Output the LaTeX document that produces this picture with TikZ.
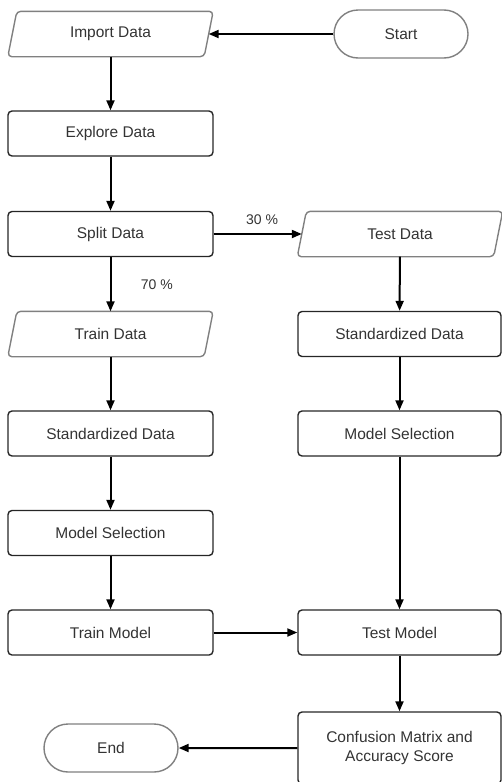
\documentclass[tikz,border=0pt]{standalone}
\usepackage{fontspec}
\setmainfont{Liberation Sans}
\usetikzlibrary{arrows.meta,calc,shapes.misc}
\begin{document}
\begin{tikzpicture}[x=1pt,y=-1pt,
  every node/.style={font=\fontsize{15.5}{19}\selectfont, text=black!80},
  rbox/.style={draw=black!85, line width=1.4pt, rounded corners=4pt, minimum height=45pt, inner sep=0pt, align=center},
  lcol/.style={minimum width=205pt},
  rcol/.style={minimum width=203pt},
  pnode/.style={minimum width=196pt, minimum height=45pt, inner sep=0pt},
  pline/.style={draw=black!50, line width=1.4pt, rounded corners=4pt},
  term/.style={rounded rectangle, draw=black!50, line width=1.4pt, minimum width=134pt, minimum height=48pt, inner sep=0pt},
  arr/.style={-{Triangle[length=10pt,width=8pt]}, line width=2pt, black},
  lbl/.style={font=\fontsize{14}{16}\selectfont, text=black!80}
]
\useasboundingbox (0,0) rectangle (501,782);
\newcommand\paral[1]{\path[pline] ($(#1.south west)+(-4.5,0)$) -- ($(#1.north west)+(4.5,0)$) -- ($(#1.north east)+(4.5,0)$) -- ($(#1.south east)+(-4.5,0)$) -- cycle;}

% left column
\node[pnode] (imp) at (110.5,34) {Import Data};
\paral{imp}
\node[rbox,lcol] (exp) at (110.5,133.5) {Explore Data};
\node[rbox,lcol] (spl) at (110.5,234) {Split Data};
\node[pnode] (trd) at (110.5,334) {Train Data};
\paral{trd}
\node[rbox,lcol] (stl) at (110.5,433.5) {Standardized Data};
\node[rbox,lcol] (msl) at (110.5,533) {Model Selection};
\node[rbox,lcol] (trm) at (110.5,632.5) {Train Model};
\node[term] (end) at (111,748) {End};

% right column
\node[term] (start) at (401,34) {Start};
\node[pnode] (ted) at (400,234) {Test Data};
\paral{ted}
\node[rbox,rcol] (str) at (399.5,334) {Standardized Data};
\node[rbox,rcol] (msr) at (399.5,433.5) {Model Selection};
\node[rbox,rcol] (tem) at (399.5,632.5) {Test Model};
\node[rbox,rcol,minimum height=72pt] (cm) at (399.5,748) {Confusion Matrix and\\Accuracy Score};

% connectors
\draw[arr] (start) -- (imp);
\draw[arr] (imp) -- (exp);
\draw[arr] (exp) -- (spl);
\draw[arr] (spl) -- node[lbl, pos=0.5, right=26pt] {70 \%} (trd);
\draw[arr] (spl) -- node[lbl, pos=0.55, above=5pt] {30 \%} (ted);
\draw[arr] (trd) -- (stl);
\draw[arr] (stl) -- (msl);
\draw[arr] (msl) -- (trm);
\draw[arr] (trm) -- (tem);
\draw[arr] (ted) -- (str);
\draw[arr] (str) -- (msr);
\draw[arr] (msr) -- (tem);
\draw[arr] (tem) -- (cm);
\draw[arr] (cm.west |- end) -- (end);
\end{tikzpicture}
\end{document}
